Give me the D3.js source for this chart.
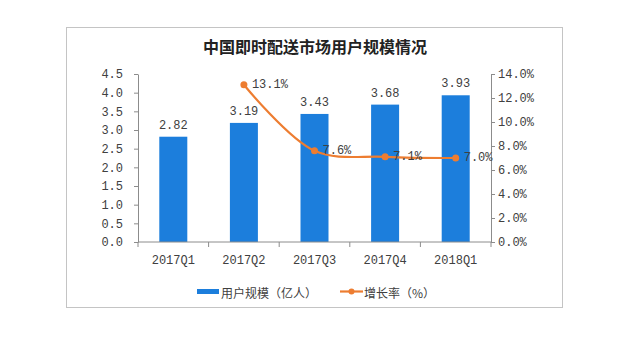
<!DOCTYPE html>
<html><head><meta charset="utf-8">
<script src="https://cdn.jsdelivr.net/npm/d3@7"></script>
<style>
html,body{margin:0;padding:0;background:#fff;}
svg{display:block;}
</style>
</head><body>
<svg id="chart" width="633" height="355"></svg>
<script>
const title = "中国即时配送市场用户规模情况";
const categories = ["2017Q1","2017Q2","2017Q3","2017Q4","2018Q1"];
const users = [2.82, 3.19, 3.43, 3.68, 3.93];
const growth = [null, 13.1, 7.6, 7.1, 7.0];
const leftTicks = [0,0.5,1,1.5,2,2.5,3,3.5,4,4.5];
const rightTicks = [0,2,4,6,8,10,12,14];
const legendLabels = ["用户规模（亿人）","增长率（%）"];

const barColor = "#1c7edc";
const lineColor = "#ed7d31";
const axisColor = "#8c8c8c";
const textColor = "#404040";
const numFont = "'Liberation Mono', 'DejaVu Sans Mono', monospace";
const cjkFont = "'Noto Sans CJK SC', sans-serif";

const svg = d3.select("#chart");
const L = 138, R = 491, T = 74, B = 242;

// frame
svg.append("rect").attr("x",66.5).attr("y",27.5).attr("width",496).attr("height",280)
  .attr("fill","#fff").attr("stroke","#c4c4c4").attr("stroke-width",1);

svg.append("text").attr("x",315).attr("y",46).attr("text-anchor","middle")
  .attr("dominant-baseline","central")
  .style("font-family",cjkFont).style("font-weight","bold").style("font-size","16px")
  .attr("fill","#222").text(title);

const xo = d3.scalePoint().domain(categories).range([L,R]).padding(0.5);
const y = d3.scaleLinear().domain([0,4.5]).range([B,T]);
const y2 = d3.scaleLinear().domain([0,14]).range([B,T]);

// bars
svg.append("g").selectAll("rect").data(users).join("rect")
  .attr("x",(d,i)=>xo(categories[i]) - 14).attr("width",28)
  .attr("y",d=>y(d)).attr("height",d=>B - y(d)).attr("fill",barColor);

svg.append("g").selectAll("text").data(users).join("text")
  .attr("x",(d,i)=>xo(categories[i])).attr("y",d=>y(d)-8)
  .attr("text-anchor","middle")
  .style("font-family",numFont).style("font-size","12px").attr("fill",textColor)
  .text(d=>d.toFixed(2));

// axes
const styleAxis = g => {
  g.select(".domain").attr("stroke",axisColor);
  g.selectAll(".tick line").attr("stroke",axisColor);
  g.selectAll(".tick text").attr("fill",textColor)
   .style("font-family",numFont).style("font-size","12px");
};
svg.append("g").attr("transform",`translate(${L},0)`)
  .call(d3.axisLeft(y).tickValues(leftTicks).tickFormat(d3.format(".1f")).tickSize(4).tickSizeOuter(0).tickPadding(11))
  .call(styleAxis);
svg.append("g").attr("transform",`translate(${R},0)`)
  .call(d3.axisRight(y2).tickValues(rightTicks).tickFormat(d=>d.toFixed(1)+"%").tickSize(4).tickSizeOuter(0).tickPadding(3))
  .call(styleAxis);

// x axis with ticks between categories
const xg = svg.append("g").attr("transform",`translate(0,${B})`);
xg.append("line").attr("x1",L).attr("x2",R).attr("stroke",axisColor);
const step = (R-L)/categories.length;
xg.selectAll("line.t").data(d3.range(categories.length+1)).join("line").attr("class","t")
  .attr("x1",i=>L+i*step).attr("x2",i=>L+i*step).attr("y1",0).attr("y2",5).attr("stroke",axisColor);
xg.selectAll("text").data(categories).join("text")
  .attr("x",d=>xo(d)).attr("y",19).attr("dominant-baseline","central").attr("text-anchor","middle")
  .style("font-family",numFont).style("font-size","12px").attr("fill",textColor).text(d=>d);

// growth line
const pts = growth.map((g,i)=>({c:categories[i],g})).filter(d=>d.g!==null);
const line = d3.line().x(d=>xo(d.c)).y(d=>y2(d.g)).curve(d3.curveCatmullRom.alpha(0.5));
svg.append("path").datum(pts).attr("d",line).attr("fill","none")
  .attr("stroke",lineColor).attr("stroke-width",2.2);
svg.append("g").selectAll("circle").data(pts).join("circle")
  .attr("cx",d=>xo(d.c)).attr("cy",d=>y2(d.g)).attr("r",3.5).attr("fill",lineColor);
svg.append("g").selectAll("text").data(pts).join("text")
  .attr("x",d=>xo(d.c)+8).attr("y",d=>y2(d.g)).attr("dominant-baseline","central")
  .style("font-family",numFont).style("font-size","12px").attr("fill",textColor)
  .text(d=>d.g.toFixed(1)+"%");

// legend
const lg = svg.append("g");
lg.append("rect").attr("x",197).attr("y",289).attr("width",22).attr("height",5).attr("fill",barColor);
lg.append("text").attr("x",221).attr("y",292).attr("dominant-baseline","central")
  .style("font-family",cjkFont).style("font-size","12px").attr("fill",textColor).text(legendLabels[0]);
lg.append("line").attr("x1",340).attr("x2",363).attr("y1",291.5).attr("y2",291.5)
  .attr("stroke",lineColor).attr("stroke-width",2.2);
lg.append("circle").attr("cx",351.5).attr("cy",291.5).attr("r",3).attr("fill",lineColor);
lg.append("text").attr("x",364).attr("y",292).attr("dominant-baseline","central")
  .style("font-family",cjkFont).style("font-size","12px").attr("fill",textColor).text(legendLabels[1]);
</script>
</body></html>
